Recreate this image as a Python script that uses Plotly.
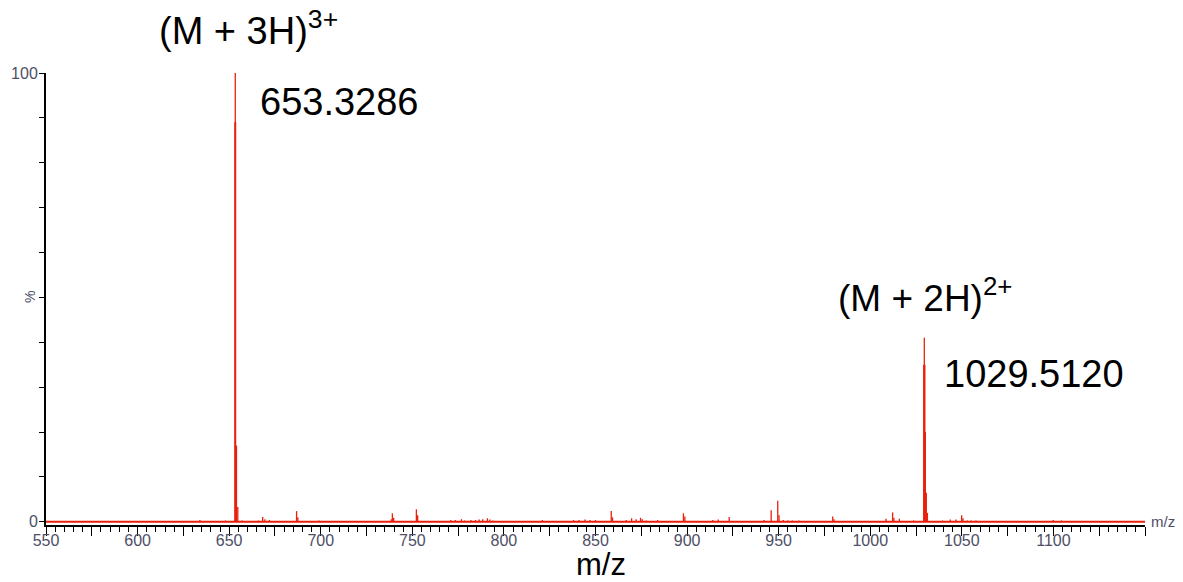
import plotly.graph_objects as go

# ---- data ----
peak_mz = [634.0, 644.0, 648.0, 653.15, 653.33, 653.5, 654.0, 654.7, 657.0, 666.0,
           668.3, 669.5, 672.0, 686.8, 687.5, 699.0, 738.5, 739.1, 739.8, 752.2,
           752.9, 771.0, 773.5, 776.8, 778.5, 782.0, 784.5, 786.5, 788.4, 791.0,
           792.3, 794.0, 808.6, 821.0, 828.0, 838.0, 841.0, 844.3, 847.0, 850.0,
           858.6, 859.3, 866.8, 869.7, 872.2, 874.6, 875.5, 877.7, 883.9, 898.0,
           898.8, 914.0, 917.0, 923.0, 942.0, 945.9, 949.5, 950.2, 952.5, 955.0,
           957.5, 961.0, 972.6, 979.5, 980.2, 999.5, 1008.6, 1012.2, 1012.9, 1015.9,
           1023.7, 1029.2, 1029.51, 1029.8, 1030.1, 1030.6, 1031.2, 1039.4, 1043.7, 1046.8,
           1049.9, 1050.6, 1053.0, 1055.0, 1057.7, 1099.9, 1104.4, 1123.5]
peak_int = [0.4, 0.2, 0.3, 89, 100, 89, 17, 3.3, 0.3, 0.3,
            1.1, 0.6, 0.4, 2.4, 1.0, 0.3, 0.6, 1.9, 0.9, 2.8,
            1.5, 0.4, 0.4, 0.6, 0.3, 0.4, 0.4, 0.5, 0.6, 0.8,
            0.5, 0.3, 0.2, 0.4, 0.2, 0.4, 0.4, 0.5, 0.4, 0.4,
            2.4, 1.0, 0.4, 0.8, 0.6, 0.9, 0.6, 0.3, 0.4, 1.9,
            1.2, 0.4, 0.5, 1.1, 0.4, 2.6, 4.7, 1.5, 0.4, 0.3,
            0.3, 0.3, 0.2, 1.2, 0.6, 0.2, 0.7, 2.1, 0.9, 0.7,
            0.3, 35, 41, 35, 20, 6.5, 2.0, 0.3, 0.5, 0.5,
            1.5, 0.8, 0.3, 0.3, 0.3, 0.4, 0.3, 0.2]

x_range = [550, 1150]
x_major = list(range(550, 1151, 25))
x_labels = [str(v) if v % 50 == 0 and v <= 1100 else "" for v in x_major]
y_ticks = list(range(0, 101, 10))
y_labels = [str(v) if v in (0, 100) else "" for v in y_ticks]

labels = [
    dict(text="(M + 3H)<sup>3+</sup>", mz=610.5, yp=1.1, size=38),
    dict(text="653.3286", mz=666.0, y=93.5, size=38),
    dict(text="(M + 2H)<sup>2+</sup>", mz=981.5, y=50.5, size=37),
    dict(text="1029.5120", mz=1039.0, y=33.0, size=38),
]

# ---- build stick spectrum ----
sx, sy = [], []
for m, h in zip(peak_mz, peak_int):
    sx += [m, m, None]
    sy += [0, h, None]

RED = "#e8200c"
TICKC = "#4e4e66"
FONT = "Arial, Liberation Sans, sans-serif"

fig = go.Figure()
fig.add_trace(go.Scatter(x=x_range, y=[0, 0], mode="lines",
                         line=dict(color=RED, width=2), hoverinfo="skip"))
fig.add_trace(go.Scatter(x=sx, y=sy, mode="lines",
                         line=dict(color=RED, width=1.3), hoverinfo="skip"))

fig.update_layout(
    width=1175, height=574,
    margin=dict(l=38, r=38, t=65, b=57),
    paper_bgcolor="white", plot_bgcolor="white",
    showlegend=False,
    font=dict(family=FONT, color=TICKC, size=16),
    xaxis=dict(range=x_range, showgrid=False, zeroline=False, automargin=False,
               showline=True, linecolor="black", linewidth=2,
               tickmode="array", tickvals=x_major, ticktext=x_labels,
               ticks="outside", ticklen=9, tickwidth=1.3, tickcolor="black",
               ticklabelstandoff=-9,
               tickfont=dict(size=16, color=TICKC, family=FONT),
               minor=dict(dtick=5, tick0=550, ticks="outside", ticklen=5,
                          tickwidth=1, tickcolor="black", showgrid=False)),
    yaxis=dict(range=[-0.7, 100], showgrid=False, zeroline=False, automargin=False,
               showline=True, linecolor="black", linewidth=2,
               tickmode="array", tickvals=y_ticks, ticktext=y_labels,
               ticks="outside", ticklen=5, tickwidth=1.3, tickcolor="black",
               ticklabelstandoff=-2,
               tickfont=dict(size=16, color=TICKC, family=FONT)),
)

for lb in labels:
    if "yp" in lb:
        fig.add_annotation(x=lb["mz"], xref="x", y=lb["yp"], yref="paper",
                           text=lb["text"], showarrow=False, xanchor="left",
                           yanchor="middle",
                           font=dict(size=lb["size"], color="black", family=FONT))
    else:
        fig.add_annotation(x=lb["mz"], xref="x", y=lb["y"], yref="y",
                           text=lb["text"], showarrow=False, xanchor="left",
                           yanchor="middle",
                           font=dict(size=lb["size"], color="black", family=FONT))

fig.add_annotation(x=-0.014, xref="paper", y=50, yref="y", text="%",
                   textangle=-90, showarrow=False, xanchor="center",
                   yanchor="middle", font=dict(size=14, color=TICKC, family=FONT))
fig.add_annotation(x=1.004, xref="paper", y=0, yref="y", text="m/z",
                   showarrow=False, xanchor="left", yanchor="middle",
                   font=dict(size=15, color=TICKC, family=FONT))
fig.add_annotation(x=0.505, xref="paper", y=-0.088, yref="paper", text="m/z",
                   showarrow=False, xanchor="center", yanchor="middle",
                   font=dict(size=31, color="black", family=FONT))

fig.write_html("out.html")
